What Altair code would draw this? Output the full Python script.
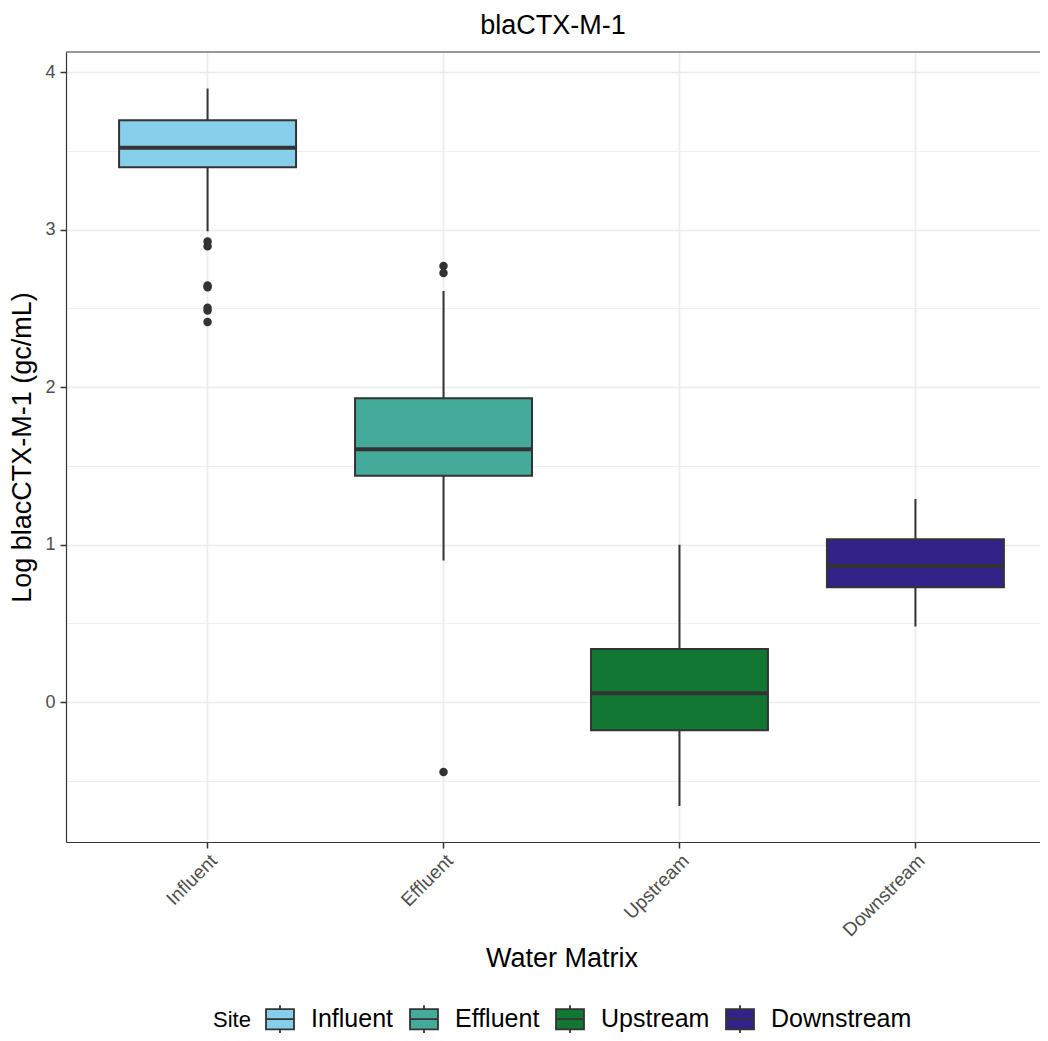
import altair as alt
import pandas as pd

# ---- data ----
sites = ["Influent", "Effluent", "Upstream", "Downstream"]
colors = ["#87CEEB", "#44AA99", "#117733", "#332288"]
whisker_low = [2.99, 0.90, -0.66, 0.48]
q1 = [3.397, 1.437, -0.178, 0.73]
median = [3.52, 1.605, 0.057, 0.865]
q3 = [3.695, 1.93, 0.338, 1.035]
whisker_high = [3.896, 2.61, 1.00, 1.29]

outlier_site = ["Influent"] * 7 + ["Effluent"] * 3
outlier_value = [2.925, 2.894, 2.646, 2.635, 2.504, 2.487, 2.413, 2.77, 2.725, -0.444]

y_ticks = [-0.5, 0, 0.5, 1, 1.5, 2, 2.5, 3, 3.5, 4]
y_domain = [-0.888, 4.128]

FONT = "Liberation Sans"
FRAME = "#333333"

stats = pd.DataFrame({
    "site": sites,
    "lo": whisker_low,
    "q1": q1,
    "med": median,
    "q3": q3,
    "hi": whisker_high,
})
outl = pd.DataFrame({"site": outlier_site, "value": outlier_value})

# the panel continues past the right edge of the picture (as in the reference)
PANEL_W = 991
VIEW_W = 974

x_enc = alt.X(
    "site:N",
    sort=sites,
    scale=alt.Scale(domain=sites, paddingInner=0.25, paddingOuter=0.225, range=[0, PANEL_W]),
    title="Water Matrix",
    axis=alt.Axis(
        labelAngle=-45,
        labelAlign="right",
        labelBaseline="top",
        labelFontSize=19,
        labelColor="#4D4D4D",
        labelPadding=3,
        tickSize=6,
        tickColor=FRAME,
        tickWidth=1.5,
        domain=True,
        domainColor=FRAME,
        domainWidth=1.2,
        grid=True,
        gridColor="#EBEBEB",
        gridWidth=1.6,
        bandPosition=0.5,
        titleFontSize=27,
        titleFontWeight="normal",
        titleColor="#000000",
        titlePadding=6,
    ),
)

y_scale = alt.Scale(domain=y_domain, nice=False, zero=False)
y_axis = alt.Axis(
    values=y_ticks,
    labelExpr="datum.value % 1 === 0 ? format(datum.value, 'd') : ''",
    labelFontSize=18,
    labelColor="#4D4D4D",
    labelPadding=5,
    tickSize=6,
    tickColor={"condition": {"test": "datum.value % 1 === 0", "value": FRAME}, "value": "transparent"},
    tickWidth=1.5,
    domain=True,
    domainColor=FRAME,
    domainWidth=1.2,
    grid=True,
    gridColor="#EBEBEB",
    gridWidth={"condition": {"test": "datum.value % 1 === 0", "value": 1.6}, "value": 0.8},
    title="Log blacCTX-M-1 (gc/mL)",
    titleFontSize=27,
    titleFontWeight="normal",
    titleColor="#000000",
    titlePadding=8,
)

base = alt.Chart(stats)

whiskers = base.mark_rule(color="#333333", strokeWidth=2).encode(
    x=x_enc,
    y=alt.Y("lo:Q", scale=y_scale, axis=y_axis),
    y2="hi:Q",
)

legend_symbol = "M-1,-0.72H1V0.72H-1Z M-1,0H1 M0,-0.72V-1 M0,0.72V1"

boxes = base.mark_bar(stroke="#333333", strokeWidth=2, opacity=1).encode(
    x=x_enc,
    y=alt.Y("q1:Q", scale=y_scale, axis=y_axis),
    y2="q3:Q",
    fill=alt.Fill(
        "site:N",
        sort=sites,
        scale=alt.Scale(domain=sites, range=colors),
        legend=alt.Legend(
            title="Site",
            orient="none",
            legendX=147,
            legendY=952,
            direction="horizontal",
            titleOrient="left",
            titleFontSize=22,
            titleFontWeight="normal",
            titleColor="#000000",
            titlePadding=14,
            titleBaseline="middle",
            labelFontSize=25,
            labelColor="#000000",
            labelOffset=16,
            columnPadding=12,
            symbolType=legend_symbol,
            symbolSize=784,
            symbolStrokeColor="#333333",
            symbolStrokeWidth=1.8,
            symbolOpacity=1,
        ),
    ),
)

medians = base.mark_tick(color="#333333", thickness=4, size=177, opacity=1).encode(
    x=x_enc,
    y=alt.Y("med:Q", scale=y_scale, axis=y_axis),
)

points = alt.Chart(outl).mark_circle(color="#333333", size=72, opacity=1).encode(
    x=x_enc,
    y=alt.Y("value:Q", scale=y_scale, axis=y_axis),
)

# top edge of the panel frame
top_edge = alt.Chart(pd.DataFrame({"edge": ["top"]})).mark_rule(
    color=FRAME, strokeWidth=1.2
).encode(x=alt.value(0), x2=alt.value(PANEL_W), y=alt.value(0))

chart = (
    alt.layer(whiskers, boxes, medians, points, top_edge)
    .properties(
        width=VIEW_W,
        height=790,
        autosize=alt.AutoSizeParams(type="none"),
        padding={"left": 58, "top": 44, "right": 0, "bottom": 191},
        title=alt.TitleParams(
            "blaCTX-M-1",
            fontSize=27,
            fontWeight="normal",
            color="#000000",
            font=FONT,
            anchor="middle",
            offset=11,
        ),
        background="#FFFFFF",
    )
    .configure(font=FONT)
    .configure_view(strokeWidth=0)
    .configure_axis(labelFont=FONT, titleFont=FONT)
    .configure_legend(labelFont=FONT, titleFont=FONT)
)

chart.save("out.html", embed_options={"renderer": "svg", "actions": False})
